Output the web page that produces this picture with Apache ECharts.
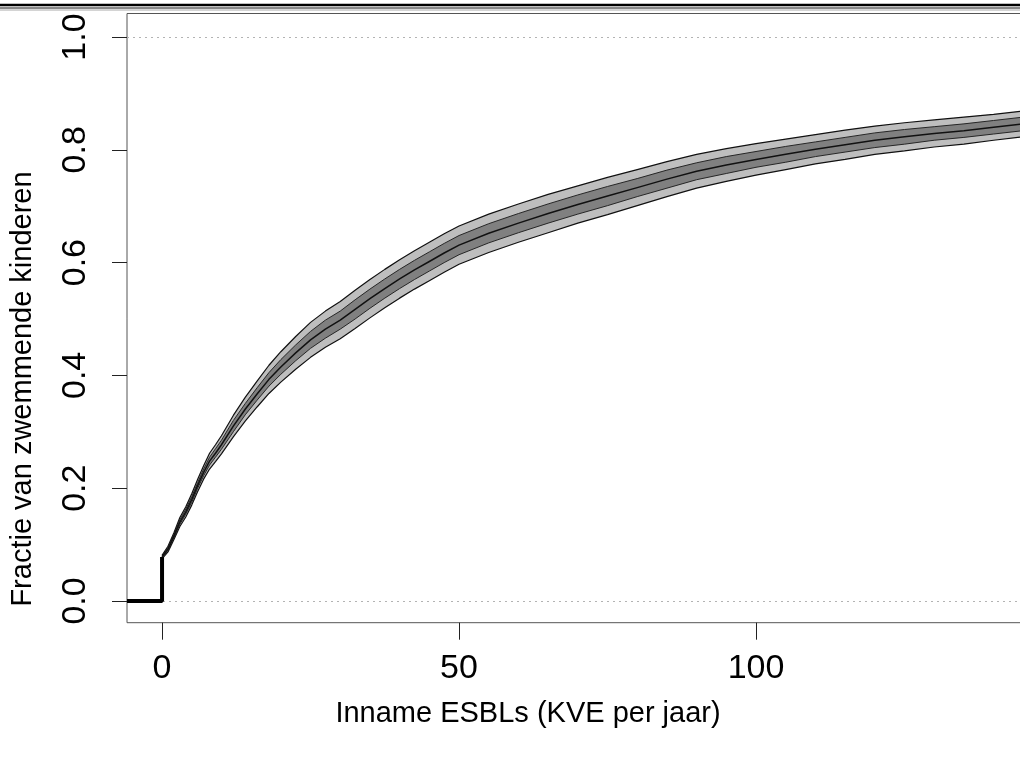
<!DOCTYPE html>
<html><head><meta charset="utf-8">
<script src="https://cdn.jsdelivr.net/npm/echarts@6/dist/echarts.min.js"></script>
<style>html,body{margin:0;padding:0;background:#fff}#c{width:1020px;height:778px}</style>
</head><body><div id="c"></div>
<script>
// ---- data ----
const xs      = [0, 0.5, 1, 2, 3, 4, 5, 6, 7, 8, 9, 10, 12, 14, 16, 18, 20, 22.5, 25, 27.5, 30, 32.5, 35, 37.5, 40, 42.5, 45, 47.5, 50, 55, 60, 65, 70, 75, 80, 85, 90, 95, 100, 105, 110, 115, 120, 125, 130, 135, 140, 145, 150];
const center  = [0.078, 0.085, 0.092, 0.115, 0.140, 0.158, 0.180, 0.205, 0.228, 0.248, 0.262, 0.277, 0.310, 0.340, 0.367, 0.393, 0.415, 0.440, 0.463, 0.482, 0.498, 0.517, 0.536, 0.554, 0.571, 0.587, 0.602, 0.617, 0.631, 0.652, 0.670, 0.687, 0.703, 0.718, 0.733, 0.748, 0.762, 0.773, 0.783, 0.792, 0.801, 0.809, 0.817, 0.823, 0.829, 0.834, 0.840, 0.846, 0.851];
const outerLo = [0.075, 0.081, 0.087, 0.109, 0.132, 0.149, 0.170, 0.194, 0.216, 0.234, 0.247, 0.261, 0.291, 0.319, 0.344, 0.368, 0.388, 0.411, 0.432, 0.450, 0.465, 0.483, 0.502, 0.520, 0.537, 0.553, 0.568, 0.583, 0.597, 0.618, 0.636, 0.653, 0.670, 0.685, 0.701, 0.717, 0.732, 0.744, 0.755, 0.765, 0.775, 0.783, 0.792, 0.798, 0.805, 0.810, 0.817, 0.823, 0.828];
const outerHi = [0.081, 0.089, 0.097, 0.121, 0.148, 0.167, 0.190, 0.216, 0.240, 0.262, 0.277, 0.293, 0.329, 0.361, 0.390, 0.418, 0.442, 0.469, 0.494, 0.514, 0.531, 0.551, 0.570, 0.588, 0.605, 0.621, 0.636, 0.651, 0.665, 0.686, 0.704, 0.721, 0.736, 0.751, 0.765, 0.779, 0.792, 0.802, 0.811, 0.819, 0.827, 0.835, 0.842, 0.848, 0.853, 0.858, 0.863, 0.869, 0.874];
const innerLo = [0.077, 0.083, 0.090, 0.112, 0.136, 0.154, 0.175, 0.200, 0.222, 0.241, 0.255, 0.269, 0.300, 0.330, 0.356, 0.381, 0.402, 0.426, 0.448, 0.466, 0.482, 0.500, 0.519, 0.537, 0.554, 0.570, 0.585, 0.600, 0.614, 0.635, 0.653, 0.670, 0.686, 0.701, 0.717, 0.732, 0.747, 0.758, 0.769, 0.778, 0.788, 0.796, 0.804, 0.810, 0.817, 0.822, 0.828, 0.834, 0.840];
const innerHi = [0.080, 0.087, 0.095, 0.118, 0.144, 0.163, 0.185, 0.210, 0.234, 0.255, 0.270, 0.285, 0.320, 0.350, 0.378, 0.405, 0.428, 0.454, 0.478, 0.498, 0.514, 0.534, 0.553, 0.571, 0.588, 0.604, 0.619, 0.634, 0.648, 0.669, 0.687, 0.704, 0.720, 0.735, 0.749, 0.764, 0.777, 0.788, 0.797, 0.806, 0.814, 0.822, 0.830, 0.836, 0.841, 0.846, 0.852, 0.858, 0.862];
const stepX   = [-5.9, 0, 0];
const stepY   = [0, 0, 0.078];
const xTicks  = [0, 50, 100, 150];
const yTicks  = [0, 0.2, 0.4, 0.6, 0.8, 1.0];
const refLines = [0, 1];
const xTitle  = 'Inname ESBLs (KVE per jaar)';
const yTitle  = 'Fractie van zwemmende kinderen';

// ---- chart ----
const FONT = '"Liberation Sans", Arial, sans-serif';
const pairs = ys => xs.map((x, i) => [x, ys[i]]);
function fill(ys, color) {
  return {type: 'line', data: pairs(ys), symbol: 'none', silent: true, z: 2,
    lineStyle: {width: 0, opacity: 0}, areaStyle: {color: color, opacity: 1}};
}
function outline(ys, color, w) {
  return {type: 'line', data: pairs(ys), symbol: 'none', silent: true, z: 3,
    lineStyle: {width: w, color: color}};
}
const chart = echarts.init(document.getElementById('c'), null, {renderer: 'canvas'});
chart.setOption({
  animation: false,
  backgroundColor: '#ffffff',
  grid: {left: 127, top: 13.5, width: 945, height: 609.2, show: true, borderColor: '#555', borderWidth: 1,
    containLabel: false, outerBoundsMode: 'none'},
  xAxis: {
    type: 'value', min: -5.9, max: 153.2,
    axisLine: {show: false, onZero: false}, splitLine: {show: false},
    axisTick: {show: true, length: 17, lineStyle: {color: '#222', width: 1}, customValues: xTicks},
    axisLabel: {customValues: xTicks, margin: 29, fontSize: 34, lineHeight: 34, color: '#000', fontFamily: FONT}
  },
  yAxis: {
    type: 'value', min: -0.0385, max: 1.0417,
    axisLine: {show: false, onZero: false}, splitLine: {show: false},
    axisTick: {show: true, length: 15, lineStyle: {color: '#222', width: 1}, customValues: yTicks},
    axisLabel: {customValues: yTicks, rotate: 90, margin: 34, fontSize: 34, lineHeight: 34, color: '#000', fontFamily: FONT,
      formatter: v => Number(v).toFixed(1)}
  },
  series: [
    fill(outerHi, '#bebebe'),
    fill(innerHi, '#808080'),
    fill(innerLo, '#bebebe'),
    fill(outerLo, '#ffffff'),
    outline(outerHi, '#111111', 1.2),
    outline(outerLo, '#111111', 1.2),
    outline(innerHi, '#262626', 1),
    outline(innerLo, '#262626', 1),
    outline(center, '#111111', 1.5),
    {type: 'line', data: [], symbol: 'none', silent: true, z: 5,
      markLine: {silent: true, symbol: 'none', label: {show: false}, animation: false,
        lineStyle: {color: '#b3b3b3', type: [2, 4], width: 1},
        data: refLines.map(v => ({yAxis: v}))}},
    {type: 'line', data: stepX.map((x, i) => [x, stepY[i]]), symbol: 'none', silent: true, z: 6,
      lineStyle: {width: 4, color: '#000'}}
  ],
  graphic: [
    {type: 'line', shape: {x1: 0, y1: 5, x2: 1020, y2: 5}, style: {stroke: '#000', lineWidth: 2.5}, silent: true},
    {type: 'line', shape: {x1: 0, y1: 8, x2: 1020, y2: 8}, style: {stroke: '#111', lineWidth: 1}, silent: true},
    {type: 'line', shape: {x1: 0, y1: 10, x2: 1020, y2: 10}, style: {stroke: '#aaa', lineWidth: 1}, silent: true},
    {type: 'text', x: 528, y: 714, silent: true,
      style: {text: xTitle, fontSize: 29, fontFamily: FONT, fill: '#000', textAlign: 'center', textVerticalAlign: 'middle'}},
    {type: 'text', x: 23, y: 389, rotation: Math.PI / 2, silent: true,
      style: {text: yTitle, fontSize: 29, fontFamily: FONT, fill: '#000', textAlign: 'center', textVerticalAlign: 'middle'}}
  ]
});
</script>
</body></html>
